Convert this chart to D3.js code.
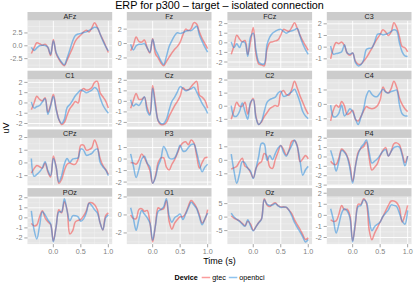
<!DOCTYPE html>
<html>
<head>
<meta charset="utf-8">
<script src="https://d3js.org/d3.v7.min.js"></script>
<style>
  body { margin: 0; background: #fff; }
  svg text { font-family: "Liberation Sans", Arial, Helvetica, sans-serif; }
</style>
</head>
<body>
<script>
// time axis (s), shared by every channel
var time = [-0.4, -0.35, -0.3, -0.25, -0.2, -0.15, -0.1, -0.05, 0, 0.05, 0.1, 0.15, 0.2, 0.25, 0.3,
            0.35, 0.4, 0.45, 0.5, 0.55, 0.6, 0.65, 0.7, 0.75, 0.8, 0.85, 0.9, 0.95, 1.0];

var channels = ["AFz", "Fz", "FCz", "C3", "C1", "Cz", "C2", "C4",
                "CPz", "P3", "Pz", "P4", "POz", "O1", "Oz", "O2"];

var yTicks = [[-2.5, 0, 2.5], [-2, 0, 2], [-2, -1, 0, 1, 2], [-1, 0, 1, 2],
              [-2, -1, 0, 1, 2], [-2, -1, 0, 1, 2], [-1, 0, 1, 2], [-1, 0, 1],
              [-1, 0, 1, 2], [-2, -1, 0, 1], [-1, 0, 1], [-3, -2, -1, 0, 1, 2],
              [-2, -1, 0, 1, 2], [-2, 0, 2], [-5, 0, 5], [-2, -1, 0, 1, 2]];
var xTicks = [0, 0.5, 1.0];

var devices = ["gtec", "openbci"];
var deviceColors = ["#F83A3A", "#1E88E0"];

// ERP values in uV
var gtecAFz = [-1.5,-0.4,0.6,0.4,0.1,0.3,-0.3,-1.9,1.2,-1.5,-2.6,-3.4,-3.9,-2.8,-1.6,-0.4,0.9,1.6,2.1,2.7,3.0,2.7,3.5,4.5,3.6,2.3,1.2,0.0,-1.3];
var openbciAFz = [-0.3,-0.9,-0.4,0,0.1,0.05,-0.3,-1.7,1.0,-1.3,-2.4,-3.2,-3.7,-2.4,-0.8,0.9,2.0,2.3,2.4,2.6,2.7,3.0,3.3,3.6,3.5,2.3,1.0,-0.1,-1.0];
var gtecFz = [-1.0,-0.2,0.9,0.3,0.2,0.5,-0.6,-1.3,0.7,-1.4,-2.0,-2.7,-3.1,-2.5,-1.9,-1.3,-0.8,-0.4,0.2,1.2,2.0,1.8,2.1,2.9,2.7,1.6,0.7,0.0,-0.7];
var openbciFz = [-0.1,-0.9,-0.3,-0.1,-0.1,0,-0.6,-1.2,0.6,-0.8,-1.6,-2.4,-2.9,-1.8,-0.4,0.4,1.1,1.5,1.4,1.5,1.7,1.8,1.8,2.1,2.4,1.2,0.3,-0.5,-1.2];
var gtecFCz = [-1.2,-0.3,0.8,0.4,0.1,0.25,-1.2,0.1,1.6,-1.2,-2.2,-2.3,-2.4,-0.7,0,0.1,0.2,0.3,0.8,1.4,1.3,1.2,1.6,2.1,1.5,0.8,0.2,-0.3,-0.8];
var openbciFCz = [0.1,-0.5,-0.1,-0.5,0.1,0,-1.4,0.6,1.0,-0.8,-2.0,-2.2,-2.2,-0.2,0.6,1.0,1.2,1.35,1.4,1.2,1.0,1.15,1.25,1.35,1.5,0.7,-0.1,-0.7,-1.2];
var gtecC3 = [-1.0,-0.1,0.4,0.3,0.45,0.15,-0.5,-0.7,-0.5,-1.2,-1.45,-1.45,-1.2,-0.9,-0.5,-0.1,0.35,0.75,1.1,1.5,1.3,1.0,1.3,2.1,1.7,0.9,0.05,-0.05,-0.4];
var openbciC3 = [0.1,-0.6,-0.55,-0.5,-0.4,0.2,-0.5,-0.6,-0.5,-1.3,-1.6,-1.5,-1.1,-0.2,-0.1,-0.05,0.45,1.1,1.15,1.05,1.1,1.2,1.35,1.5,1.4,0.4,-0.4,-0.75,-0.8];
var gtecC1 = [-0.65,0.0,0.65,0.35,0.2,0.5,-0.9,-0.2,0.85,-0.5,-1.6,-2.1,-1.9,-1.2,-0.55,-0.2,0.15,0.0,1.1,1.4,1.25,1.3,1.5,2.0,2.1,1.0,0.6,0.2,-0.5];
var openbciC1 = [0.1,-0.5,-0.35,-0.25,0.1,0.4,-1.1,-0.3,0.65,-0.6,-1.6,-2.0,-1.6,-0.45,-0.15,0.25,0.7,1.0,1.25,1.15,1.0,1.1,1.25,1.5,1.3,0.5,-0.2,-0.65,-1.0];
var gtecCz = [-0.65,0.1,0.75,0.2,0.2,0.4,-0.6,-1.2,1.5,-0.2,-1.85,-2.2,-2.2,-2.0,-1.4,-0.9,-0.4,0.0,0.5,1.3,1.1,1.1,1.4,1.7,1.9,0.6,0.4,0.1,-0.65];
var openbciCz = [0.15,-0.45,-0.25,-0.4,0,0.45,-0.9,-1.3,1.25,-0.5,-1.8,-2.1,-2.1,-1.7,-0.8,0,0.4,0.9,1.4,1.2,1.0,1.1,1.2,1.35,0.9,0.35,-0.2,-0.6,-1.15];
var gtecC2 = [-1.0,-0.3,0.3,0.0,0.0,0.3,-0.6,0.2,0.6,-0.8,-1.4,-1.2,-0.8,-0.5,-0.2,-0.05,0.05,0.0,1.0,1.2,0.9,0.85,1.3,1.9,1.4,0.8,0.3,-0.2,-0.6];
var openbciC2 = [0.05,-0.75,-0.75,-0.4,0.25,-0.4,-1.0,0.3,0.5,-0.9,-1.4,-1.15,-0.4,0.3,0.5,0.6,0.7,1.0,1.15,0.75,0.8,0.95,1.1,1.3,0.9,0.3,-0.4,-0.75,-0.95];
var gtecC4 = [-1.15,-0.4,-0.05,-0.2,0.2,-0.1,-0.7,-0.6,-0.4,-1.05,-1.15,-0.85,-0.45,-0.15,-0.25,-0.3,-0.25,-0.1,0.3,1.2,0.9,0.8,1.1,1.6,1.2,0.45,0.0,-0.3,-0.5];
var openbciC4 = [-0.05,-0.85,-0.85,-0.6,-0.05,-0.8,-0.6,-0.3,-0.5,-1.0,-1.4,-0.9,-0.3,0.6,0.95,0.7,0.55,0.55,0.8,1.05,0.85,0.8,0.9,0.95,1.0,0.0,-0.65,-0.8,-0.8];
var gtecCPz = [-0.8,-0.45,-0.2,-0.3,-0.4,0.0,-0.7,-1.1,0.55,-0.3,-1.6,-1.3,-0.6,-0.1,0.0,-0.1,-0.1,0.3,1.4,1.4,1.0,1.05,1.2,1.8,1.3,0.35,-0.2,-0.5,-0.9];
var openbciCPz = [0.35,-1.05,-0.9,-0.7,-0.4,0.1,-0.6,-1.0,0.35,-0.3,-1.5,-1.0,-0.1,0.35,0.05,0.3,0.35,0.4,1.1,1.0,0.6,0.65,0.75,1.0,1.1,0.05,-0.3,-0.55,-1.0];
var gtecP3 = [-0.3,-0.35,-0.45,-0.1,0.45,0.1,-0.4,-1.0,-2.1,-1.5,-0.3,0.1,0.1,-0.7,-0.95,-0.45,-0.05,0.5,1.1,1.4,1.5,1.25,1.65,1.4,0.3,-0.8,-0.3,0.1,0.15];
var openbciP3 = [0.45,-0.6,-1.6,-0.9,0.0,0.25,-0.35,-0.7,-2.1,-1.6,-0.6,0.0,1.1,0.7,0.1,0.0,0.1,0.6,1.2,0.7,0.7,1.0,1.25,1.3,0.6,-0.4,-1.1,-0.7,-0.45];
var gtecPz = [-0.65,-0.55,-0.45,-0.1,0.15,-0.45,-0.55,-0.9,-1.3,-0.6,-0.25,-0.1,0.5,0.3,-0.5,-0.6,0.05,0.6,1.1,0.8,0.4,0.75,1.4,1.45,1.1,-0.1,0.1,0.35,0.1];
var openbciPz = [0.45,-0.8,-1.7,-1.0,-0.1,-0.2,-0.6,-0.8,-1.35,-0.6,0.3,1.25,1.2,0.0,0.35,0.05,0.5,0.9,1.1,0.6,0.3,0.7,1.1,1.5,1.0,0.0,-1.1,-0.7,-0.45];
var gtecP4 = [-0.45,-0.75,-0.8,-0.1,0.85,0.6,0.1,-0.9,-2.6,-1.0,0.5,0.9,1.1,1.6,-0.1,-1.4,-1.1,-0.7,0.1,0.7,1.0,0.1,0.6,1.4,1.5,1.3,0.4,-0.6,0.1];
var openbciP4 = [0.7,-0.3,-1.5,-0.45,0.7,0.5,0.0,-1.2,-2.8,-1.0,0.3,1.0,1.35,1.8,0.5,-0.65,-0.45,-0.2,0.2,0.6,0.8,0.1,0.6,1.0,1.1,1.05,0.2,-0.95,0.1];
var gtecPOz = [-0.55,-0.8,-0.7,0.1,0.7,0.0,-0.4,-0.65,-2.3,-0.9,0.8,0.5,1.6,0.8,-1.6,-1.3,-0.4,-0.25,-0.15,0.2,0.7,1.5,1.5,1.3,0.8,-0.5,-1.2,0.2,0.5];
var openbciPOz = [0.7,-1.2,-2.1,-0.8,0.6,0.3,-0.2,-0.6,-2.4,-0.9,0.6,0.6,1.9,0.7,-0.3,0.2,0.2,0.1,-0.35,-0.1,0.5,1.45,1.2,0.8,0.5,-0.5,-1.2,0.0,0.3];
var gtecO1 = [0.0,-0.4,-0.4,0.6,0.7,0.4,0.5,-0.8,-3.0,-1.2,0.8,0.6,0.7,1.6,-0.7,-1.6,-0.9,-0.5,-0.2,-0.2,0.2,1.0,1.6,1.3,0.8,0.0,-0.9,-0.5,0.6];
var openbciO1 = [0.8,-0.4,-1.7,-0.5,0.5,0.1,-0.3,-0.9,-2.8,-1.2,0.4,0.6,0.9,1.8,-0.1,-0.8,-0.3,-0.1,0.1,-0.5,0.1,0.8,1.4,1.1,0.7,-0.2,-1.1,-0.4,0.2];
var gtecOz = [0.4,-0.4,-0.9,-1.4,-2.3,-3.2,-1.5,-2.5,-4.9,-3.5,-2.0,-0.6,6.8,4.5,3.9,4.8,5.3,4.3,3.8,3.8,3.6,2.6,1.3,-1.0,-2.8,-4.5,-6.5,-8.3,-7.7];
var openbciOz = [1.5,0.0,-0.8,-1.6,-2.6,-3.4,-1.0,-3.2,-5.1,-3.6,-2.1,-0.8,6.4,4.8,4.3,4.5,5.0,4.2,3.6,3.7,3.7,2.5,0.5,-2.0,-3.8,-5.5,-7.3,-9.2,-8.3];
var gtecO2 = [-0.4,-0.55,-0.5,0.1,0.9,0.5,0.55,0.0,-2.3,-0.8,1.0,1.0,1.5,1.1,-1.3,-2.2,-1.6,-1.1,-0.6,-0.1,0.4,0.9,1.3,1.3,1.15,0.7,-0.6,0.0,0.9];
var openbciO2 = [0.6,-0.4,-1.6,-0.8,0.2,0.6,0.4,-0.2,-2.4,-0.6,0.8,0.9,1.4,1.2,-0.3,-1.4,-1.0,-0.8,-0.6,-0.1,0.2,0.5,0.95,0.9,0.8,0.2,-0.5,-0.8,0.45];

var seriesTable = {
    AFz: [gtecAFz, openbciAFz], Fz: [gtecFz, openbciFz], FCz: [gtecFCz, openbciFCz], C3: [gtecC3, openbciC3],
    C1: [gtecC1, openbciC1], Cz: [gtecCz, openbciCz], C2: [gtecC2, openbciC2], C4: [gtecC4, openbciC4],
    CPz: [gtecCPz, openbciCPz], P3: [gtecP3, openbciP3], Pz: [gtecPz, openbciPz], P4: [gtecP4, openbciP4],
    POz: [gtecPOz, openbciPOz], O1: [gtecO1, openbciO1], Oz: [gtecOz, openbciOz], O2: [gtecO2, openbciO2]
};

var W = 415, H = 291;
var colLeft = [27.5, 126.8, 227.4, 326.8];
var panelW = 84.7;
var rowTop = [12, 70.7, 129.4, 188.1];
var stripH = 8.5, panelH = 47.5;
var tickLen = 3.2;

var svg = d3.select("body").append("svg")
    .attr("width", W)
    .attr("height", H);

function expand(ext) {
    var pad = (ext[1] - ext[0]) * 0.05;
    return [ext[0] - pad, ext[1] + pad];
}

function minors(majors, domain) {
    var step = majors[1] - majors[0];
    var out = [];
    for (var i = -1; i < majors.length; i++) {
        var m = majors[0] + step * (i + 0.5);
        if (m > domain[0] && m < domain[1]) out.push(m);
    }
    return out;
}

var xDomain = expand(d3.extent(time));

channels.forEach(function (ch, i) {
    var col = i % 4, row = Math.floor(i / 4);
    var px = colLeft[col], py = rowTop[row] + stripH;
    var g = svg.append("g").attr("transform", "translate(" + px + "," + py + ")");

    var vals = seriesTable[ch];
    var yDomain = expand(d3.extent(vals[0].concat(vals[1])));
    var x = d3.scaleLinear().domain(xDomain).range([0, panelW]);
    var y = d3.scaleLinear().domain(yDomain).range([panelH, 0]);
    var ticks = yTicks[i];

    // strip
    svg.append("rect")
        .attr("x", px).attr("y", rowTop[row])
        .attr("width", panelW).attr("height", stripH)
        .attr("fill", "#CCCCCC");
    svg.append("text")
        .attr("x", px + panelW / 2).attr("y", rowTop[row] + stripH / 2)
        .attr("dy", "0.36em")
        .attr("text-anchor", "middle")
        .attr("font-size", "7.2px")
        .attr("fill", "#1A1A1A")
        .text(ch);

    // panel background + grid
    g.append("rect").attr("width", panelW).attr("height", panelH).attr("fill", "#E5E5E5");
    minors(xTicks, xDomain).forEach(function (v) {
        g.append("line").attr("x1", x(v)).attr("x2", x(v)).attr("y1", 0).attr("y2", panelH)
            .attr("stroke", "#F2F2F2").attr("stroke-width", 0.5);
    });
    minors(ticks, yDomain).forEach(function (v) {
        g.append("line").attr("x1", 0).attr("x2", panelW).attr("y1", y(v)).attr("y2", y(v))
            .attr("stroke", "#F2F2F2").attr("stroke-width", 0.5);
    });
    xTicks.forEach(function (v) {
        g.append("line").attr("x1", x(v)).attr("x2", x(v)).attr("y1", 0).attr("y2", panelH)
            .attr("stroke", "#FFFFFF").attr("stroke-width", 0.9);
    });
    ticks.forEach(function (v) {
        g.append("line").attr("x1", 0).attr("x2", panelW).attr("y1", y(v)).attr("y2", y(v))
            .attr("stroke", "#FFFFFF").attr("stroke-width", 0.9);
    });

    // lines
    var line = d3.line()
        .x(function (d, k) { return x(time[k]); })
        .y(function (d) { return y(d); })
        .curve(d3.curveCatmullRom.alpha(0.5));
    vals.forEach(function (v, k) {
        g.append("path")
            .attr("d", line(v))
            .attr("fill", "none")
            .attr("stroke", deviceColors[k])
            .attr("stroke-opacity", 0.5)
            .attr("stroke-width", 1.5)
            .attr("stroke-linejoin", "round");
    });

    // y axis
    var fmt = ticks.some(function (t) { return t % 1 !== 0; }) ? d3.format(".1f") : d3.format("d");
    ticks.forEach(function (v) {
        g.append("line").attr("x1", -tickLen).attr("x2", 0).attr("y1", y(v)).attr("y2", y(v))
            .attr("stroke", "#7F7F7F").attr("stroke-width", 0.7);
        g.append("text")
            .attr("x", -tickLen - 1.8).attr("y", y(v)).attr("dy", "0.35em")
            .attr("text-anchor", "end")
            .attr("font-size", "7.2px")
            .attr("fill", "#7F7F7F")
            .text(fmt(v).replace("\u2212", "-"));
    });

    // x axis on bottom row
    if (row === 3) {
        xTicks.forEach(function (v) {
            g.append("line").attr("x1", x(v)).attr("x2", x(v)).attr("y1", panelH).attr("y2", panelH + tickLen)
                .attr("stroke", "#7F7F7F").attr("stroke-width", 0.7);
            g.append("text")
                .attr("x", x(v)).attr("y", panelH + tickLen + 1.4).attr("dy", "0.72em")
                .attr("text-anchor", "middle")
                .attr("font-size", "7.2px")
                .attr("fill", "#7F7F7F")
                .text(d3.format(".1f")(v));
        });
    }
});

var centerX = (colLeft[0] + colLeft[3] + panelW) / 2;

svg.append("text")
    .attr("x", centerX).attr("y", 9.2)
    .attr("text-anchor", "middle")
    .attr("font-size", "10.8px")
    .attr("fill", "#000")
    .text("ERP for p300 \u2013 target \u2013 isolated connection");

svg.append("text")
    .attr("transform", "translate(9," + (rowTop[0] + (rowTop[3] + stripH + panelH - rowTop[0]) / 2) + ") rotate(-90)")
    .attr("text-anchor", "middle")
    .attr("font-size", "9px")
    .attr("fill", "#000")
    .text("uV");

svg.append("text")
    .attr("x", centerX).attr("y", 263.5)
    .attr("text-anchor", "middle")
    .attr("font-size", "9px")
    .attr("fill", "#000")
    .text("Time (s)");

// legend
var legend = svg.append("g");
var ly = 277.5;
var title = legend.append("text")
    .attr("x", 0).attr("y", ly).attr("dy", "0.35em")
    .attr("font-size", "7.2px").attr("font-weight", "bold")
    .attr("fill", "#000")
    .text("Device");
var cx = title.node().getComputedTextLength() + 4;
devices.forEach(function (dv, k) {
    legend.append("line")
        .attr("x1", cx).attr("x2", cx + 8.5).attr("y1", ly).attr("y2", ly)
        .attr("stroke", deviceColors[k]).attr("stroke-opacity", 0.5).attr("stroke-width", 1.5);
    var t = legend.append("text")
        .attr("x", cx + 10.5).attr("y", ly).attr("dy", "0.35em")
        .attr("font-size", "7.2px").attr("fill", "#000")
        .text(dv);
    cx += 10.5 + t.node().getComputedTextLength() + 3;
});
var lw = cx - 3;
legend.attr("transform", "translate(" + (centerX - lw / 2) + ",0)");
</script>
</body>
</html>
